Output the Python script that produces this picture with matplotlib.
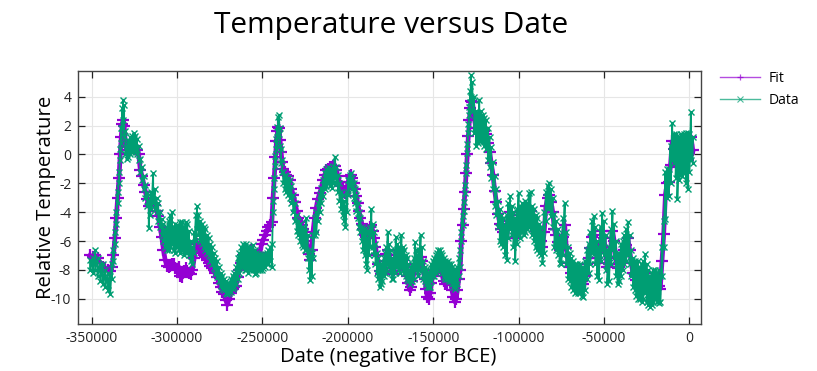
import matplotlib
matplotlib.use("Agg")
import matplotlib.pyplot as plt

plt.rcParams['font.family'] = ['Open Sans', 'DejaVu Sans']

# Dates (years; negative = BCE). At each date the dense "Data" band is read as an
# upper and a lower value; "Fit" is read as one value.
dates = [
    -351000, -349500, -348000, -346500, -345000, -343500, -342000, -340500, -339200, -338200,
    -337300, -336400, -335600, -334800, -334000, -333300, -332700, -332100, -331600, -331000,
    -330300, -329500, -328500, -327500, -326500, -325500, -324500, -323500, -322500, -321500,
    -320500, -319500, -318500, -317500, -316600, -315800, -315000, -314000, -313000, -312000,
    -311000, -310000, -309000, -308000, -307000, -306000, -305000, -304000, -303000, -302000,
    -301000, -300000, -299000, -298000, -297000, -296000, -295000, -294000, -293000, -292000,
    -291000, -290000, -289000, -288300, -287500, -286500, -285500, -284500, -283500, -282500,
    -281500, -280500, -279500, -278500, -277500, -276500, -275500, -274500, -273500, -272500,
    -271500, -270500, -269500, -268500, -267500, -266500, -265500, -264500, -263500, -262500,
    -261500, -260500, -259500, -258500, -257500, -256500, -255500, -254500, -253500, -252500,
    -251500, -250500, -249500, -248500, -247500, -246500, -245500, -244500, -243800, -243100,
    -242400, -241800, -241200, -240700, -240200, -239700, -239100, -238500, -237800, -237000,
    -236000, -235000, -234000, -233000, -232000, -231000, -230000, -229000, -228000, -227000,
    -226000, -225000, -224300, -223500, -222700, -222000, -221200, -220400, -219500, -218500,
    -217500, -216500, -215500, -214500, -213500, -212500, -211500, -210500, -209500, -208500,
    -207600, -206700, -205800, -204900, -204000, -203100, -202200, -201400, -200600, -199800,
    -199000, -198200, -197400, -196600, -195800, -195000, -194200, -193400, -192600, -191800,
    -191000, -190200, -189400, -188600, -187800, -187000, -186200, -185400, -184600, -183800,
    -183000, -182200, -181400, -180600, -179800, -179000, -178200, -177400, -176600, -175800,
    -175000, -174200, -173400, -172600, -171800, -171000, -170200, -169400, -168600, -167800,
    -167000, -166200, -165400, -164600, -163800, -163000, -162200, -161400, -160600, -159800,
    -159000, -158200, -157400, -156600, -155800, -155000, -154200, -153400, -152600, -151800,
    -151000, -150200, -149400, -148600, -147800, -147000, -146200, -145400, -144600, -143800,
    -143000, -142200, -141400, -140600, -139800, -139000, -138200, -137400, -136600, -135800,
    -135000, -134200, -133500, -132800, -132100, -131400, -130700, -130000, -129400, -128800,
    -128300, -127800,
    -127000, -126000, -125000, -124000, -123000, -122000, -121000, -120000, -119000, -118000,
    -117000, -116000, -115000, -114000, -113000, -112000, -111000, -110000, -109000, -108000,
    -107000, -106000, -105000, -104000, -103000, -102000, -101000, -100000, -99000, -98000,
    -97000, -96000, -95000, -94000, -93000, -92000, -91000, -90000, -89000, -88000,
    -87000, -86000, -85000, -84000, -83000, -82000, -81000, -80000, -79000, -78000,
    -77000, -76000, -75000, -74000, -73000, -72000, -71000, -70000, -69000, -68000,
    -67000, -66000, -65000, -64000, -63000, -62000, -61000, -60000, -59000, -58000,
    -57000, -56000, -55000, -54000, -53000, -52000, -51000, -50000, -49000, -48000,
    -47000, -46000, -45000, -44000, -43000, -42000, -41000, -40000, -39000, -38000,
    -37000, -36000, -35000, -34000, -33000, -32000, -31000, -30000, -29000, -28000,
    -27000, -26000, -25000, -24000, -23000, -22000, -21000, -20000, -19000, -18000,
    -17000, -16000, -15000, -14000, -13000, -12000, -11000, -10000, -9000, -8000,
    -7000, -6000, -5000, -4000, -3000, -2000, -1000, 0, 1000, 2000,
]

data_hi = [
    -7.3, -7.2, -6.6, -7.2, -7.6, -7.6, -8.0, -8.2, -8.4, -7.6,
    -6.6, -5.4, -4.0, -2.6, -1.2, 0.4, 1.8, 3.2, 3.8, 3.4,
    1.6, 0.6, 1.0, 1.2, 1.3, 1.5, 1.3, 1.1, 0.6, -0.3,
    -0.9, -1.5, -2.1, -2.7, -3.2, -3.0, -2.6, -1.3, -2.4, -3.0,
    -3.4, -4.0, -4.5, -4.8, -5.2, -5.0, -4.6, -4.2, -4.0, -5.0,
    -4.8, -4.9, -5.0, -4.7, -4.7, -5.0, -4.7, -4.8, -5.3, -6.0,
    -6.4, -5.4, -4.2, -3.6, -4.2, -4.6, -4.8, -5.0, -5.2, -5.6,
    -5.8, -6.2, -6.4, -6.8, -7.2, -7.4, -7.8, -8.2, -8.4, -8.6,
    -8.8, -9.0, -8.9, -8.6, -8.4, -8.2, -7.8, -7.2, -6.8, -6.4,
    -6.2, -6.4, -6.2, -6.4, -6.6, -6.4, -6.3, -6.6, -6.8, -6.9,
    -7.0, -7.0, -7.0, -6.9, -6.8, -6.6, -6.4, -6.2, -3.2, -1.6,
    -0.1, 1.1, 1.9, 2.6, 2.75, 1.8, 0.4, -0.4, -1.2, -1.4,
    -1.5, -1.6, -1.8, -2.2, -2.8, -3.4, -4.2, -4.6, -4.8, -5.0,
    -5.2, -5.4, -4.4, -5.6, -6.6, -7.2, -6.8, -5.6, -4.4, -4.0,
    -3.4, -2.8, -2.3, -1.8, -1.3, -1.0, -0.9, -1.0, -1.0, -0.8,
    -0.15, -0.9, -1.4, -2.0, -2.6, -2.8, -3.2, -3.6, -2.6, -1.8,
    -1.4, -1.3, -1.6, -2.0, -2.4, -2.8, -3.4, -4.0, -4.4, -5.0,
    -5.2, -5.2, -5.4, -5.8, -5.4, -5.0, -3.8, -4.8, -5.4, -6.2,
    -6.8, -7.2, -7.6, -7.8, -7.6, -7.2, -6.8, -6.4, -5.35, -6.2,
    -6.6, -7.2, -7.6, -6.6, -5.7, -6.2, -6.4, -6.6, -5.6, -6.4,
    -6.6, -7.0, -7.2, -7.6, -8.0, -7.8, -7.6, -7.2, -6.1, -6.6,
    -7.0, -6.6, -5.6, -6.4, -7.4, -7.8, -8.0, -8.2, -8.2, -8.0,
    -7.6, -7.4, -7.2, -7.0, -6.8, -6.6, -6.6, -6.8, -7.0, -7.2,
    -7.4, -7.6, -7.4, -7.6, -7.6, -7.8, -8.0, -8.2, -8.0, -7.8,
    -7.2, -6.6, -5.4, -4.3, -3.3, -2.1, -0.7, 0.7, 2.1, 3.3,
    4.4, 5.5,
    5.0, 4.0, 3.0, 2.8, 3.8, 3.0, 2.7, 2.5, 2.4, 1.8,
    1.2, 0.5, -0.5, -1.5, -2.4, -3.2, -3.8, -4.2, -4.4, -4.9,
    -4.2, -3.4, -2.9, -3.6, -4.0, -4.4, -3.8, -2.7, -3.6, -3.4,
    -3.6, -3.2, -3.4, -2.7, -2.6, -3.6, -3.8, -4.2, -4.4, -4.8,
    -5.0, -5.4, -4.0, -2.6, -2.2, -1.95, -2.4, -3.0, -4.1, -4.6,
    -5.2, -5.8, -5.6, -4.4, -3.4, -5.4, -6.4, -6.8, -7.2, -7.4,
    -7.6, -7.6, -7.8, -7.6, -7.8, -8.0, -7.4, -6.6, -6.2, -5.4,
    -4.6, -4.3, -5.0, -6.0, -6.4, -5.0, -4.05, -4.6, -5.6, -6.6,
    -6.4, -5.2, -3.95, -4.8, -6.0, -6.8, -6.8, -6.2, -6.0, -5.6,
    -5.2, -4.65, -5.6, -6.6, -7.2, -7.4, -7.6, -7.4, -7.8, -7.6,
    -7.4, -6.9, -7.6, -8.0, -8.4, -8.2, -8.0, -8.0, -8.2, -8.0,
    -8.4, -6.4, -4.6, -1.2, -1.0, -1.0, 0.6, 2.2, 1.4, 1.4,
    1.3, 1.2, 1.4, 1.3, 1.4, 1.5, 1.5, 1.4, 2.95, 1.2,
]

data_lo = [
    -8.0, -8.2, -8.0, -8.4, -8.8, -9.0, -9.2, -9.4, -9.7, -8.6,
    -7.4, -6.2, -4.8, -3.4, -2.0, -0.4, 0.8, 1.8, 2.4, 1.2,
    0.0, -0.3, -0.2, 0.0, 0.2, 0.3, 0.2, 0.0, -0.4, -1.2,
    -1.8, -2.4, -3.0, -3.6, -5.1, -4.2, -3.8, -3.4, -3.8, -4.0,
    -4.6, -5.0, -5.6, -6.0, -6.4, -6.6, -6.6, -6.4, -6.2, -6.6,
    -6.8, -6.4, -6.6, -6.8, -6.6, -7.0, -6.8, -6.8, -7.0, -7.4,
    -7.6, -6.8, -6.0, -5.2, -5.6, -6.0, -6.2, -6.4, -6.6, -6.8,
    -7.0, -7.4, -7.6, -7.9, -8.3, -8.5, -8.8, -9.1, -9.3, -9.4,
    -9.6, -9.7, -9.6, -9.5, -9.3, -9.2, -9.0, -8.6, -8.2, -7.8,
    -7.8, -8.0, -8.0, -8.2, -8.0, -7.8, -8.0, -8.3, -8.2, -8.0,
    -8.0, -8.0, -7.9, -7.8, -7.6, -7.6, -7.4, -7.8, -4.0, -2.4,
    -0.8, 0.4, 1.2, 1.6, 1.4, 0.6, -0.6, -1.2, -2.0, -2.4,
    -2.6, -2.8, -3.0, -3.4, -4.0, -4.6, -5.3, -5.6, -6.0, -6.3,
    -6.4, -6.6, -6.6, -7.2, -8.0, -8.7, -8.4, -7.2, -5.6, -5.4,
    -4.6, -4.0, -3.4, -2.9, -2.4, -2.2, -2.0, -2.2, -2.3, -2.0,
    -1.6, -2.0, -2.6, -3.2, -3.8, -4.2, -4.6, -5.0, -4.0, -2.8,
    -2.2, -2.0, -2.4, -3.0, -3.4, -3.9, -4.4, -5.0, -5.4, -6.0,
    -6.6, -7.0, -7.6, -8.0, -7.0, -6.4, -5.6, -6.4, -7.0, -7.6,
    -8.2, -8.6, -9.2, -9.0, -8.8, -8.4, -8.2, -8.0, -7.6, -7.8,
    -8.2, -8.6, -8.6, -8.2, -7.8, -7.8, -8.0, -8.2, -7.8, -8.0,
    -8.2, -8.4, -8.6, -8.8, -9.0, -8.8, -8.8, -8.6, -8.0, -8.0,
    -8.4, -8.0, -7.6, -8.0, -8.6, -8.8, -9.0, -9.2, -9.2, -9.2,
    -8.8, -8.4, -8.4, -8.2, -8.0, -7.8, -7.8, -8.0, -8.2, -8.5,
    -8.6, -8.6, -8.6, -8.8, -8.8, -9.0, -9.2, -9.3, -9.2, -9.0,
    -8.4, -7.8, -6.0, -4.9, -3.9, -2.7, -1.3, 0.1, 1.5, 2.7,
    3.6, 4.0,
    3.0, 1.5, 0.6, 0.8, 1.0, 0.9, 0.9, 0.6, 0.4, -0.4,
    -0.9, -1.6, -2.4, -3.6, -4.2, -5.0, -6.0, -6.2, -6.4, -7.0,
    -7.3, -5.8, -5.2, -5.6, -6.4, -7.4, -6.2, -5.6, -5.8, -5.4,
    -5.6, -5.4, -5.2, -5.0, -5.2, -5.6, -6.0, -6.4, -6.6, -6.8,
    -7.0, -7.5, -6.8, -4.6, -3.8, -3.6, -4.3, -5.0, -6.4, -6.6,
    -7.0, -7.5, -7.6, -7.0, -6.4, -7.6, -8.6, -8.8, -9.2, -9.4,
    -9.6, -9.4, -9.6, -9.6, -9.8, -9.9, -9.4, -8.6, -8.2, -7.6,
    -6.8, -6.9, -7.6, -8.4, -8.7, -7.4, -6.6, -7.0, -8.0, -9.0,
    -8.8, -7.6, -6.6, -7.2, -8.4, -9.0, -8.8, -8.4, -8.0, -7.6,
    -7.4, -7.0, -7.6, -8.4, -9.2, -9.4, -9.8, -10.0, -10.0, -10.2,
    -10.0, -9.6, -10.2, -10.4, -10.6, -10.4, -10.2, -10.0, -10.2, -10.3,
    -10.2, -8.4, -6.4, -4.5, -3.0, -2.9, -2.0, -0.4, -0.6, -1.6,
    -3.1, -1.8, -1.4, -1.5, -1.2, -2.0, -2.4, -1.2, -0.4, -0.6,
]

fit_temp = [
    -7.0, -7.1, -7.0, -7.2, -7.5, -7.8, -7.9, -8.0, -8.1, -7.8,
    -7.0, -5.8, -4.4, -3.0, -1.6, 0.0, 1.2, 2.1, 2.4, 2.0,
    0.8, 0.3, 0.5, 0.4, 0.6, 0.6, 0.5, 0.3, 0.0, -1.1,
    -1.5, -2.1, -2.6, -3.1, -3.6, -3.6, -3.4, -3.1, -3.5, -3.9,
    -4.3, -5.0, -5.7, -6.6, -7.3, -7.7, -7.8, -7.7, -7.6, -7.6,
    -7.9, -8.0, -7.8, -8.4, -8.5, -8.1, -7.9, -8.1, -8.2, -8.3,
    -8.0, -7.2, -6.5, -6.2, -6.4, -6.6, -6.8, -7.0, -7.1, -7.3,
    -7.5, -7.7, -7.9, -8.0, -8.2, -8.5, -8.9, -9.2, -9.5, -9.7,
    -10.1, -10.4, -10.0, -9.6, -9.3, -9.2, -9.1, -8.5, -8.0, -7.5,
    -7.0, -7.0, -6.8, -7.0, -6.9, -6.6, -6.8, -7.1, -7.2, -7.0,
    -6.8, -6.2, -5.9, -5.6, -5.3, -5.0, -4.9, -4.7, -3.0, -1.6,
    -0.2, 0.9, 1.6, 1.9, 1.8, 1.0, 0.2, -0.5, -1.0, -1.2,
    -1.4, -1.5, -1.8, -2.4, -2.8, -3.3, -3.9, -4.4, -4.7, -4.9,
    -5.2, -5.7, -6.0, -6.4, -6.9, -7.3, -6.6, -5.4, -4.4, -3.7,
    -3.1, -2.7, -2.3, -1.8, -1.4, -1.1, -1.0, -0.9, -0.9, -0.8,
    -0.8, -1.1, -1.5, -1.9, -2.2, -2.4, -2.6, -2.7, -2.4, -1.9,
    -1.5, -1.4, -1.6, -2.0, -2.4, -2.9, -3.4, -3.9, -4.4, -4.8,
    -5.2, -5.6, -5.7, -5.5, -5.3, -5.0, -4.9, -5.3, -5.8, -6.4,
    -7.0, -7.6, -8.1, -8.3, -8.2, -7.9, -7.4, -6.9, -6.6, -7.0,
    -7.6, -8.1, -8.3, -7.8, -7.2, -7.0, -7.3, -7.6, -7.4, -7.3,
    -7.6, -8.0, -8.4, -8.9, -9.4, -9.2, -8.8, -8.3, -7.8, -7.6,
    -7.9, -7.6, -7.1, -7.4, -8.0, -8.6, -9.3, -9.9, -10.0, -9.6,
    -8.9, -8.3, -8.2, -7.9, -7.8, -7.6, -7.7, -8.0, -8.4, -8.8,
    -9.0, -8.9, -8.6, -8.7, -8.9, -9.4, -9.9, -10.2, -10.0, -9.4,
    -8.6, -8.0, -6.0, -4.9, -3.8, -2.6, -1.3, 0.0, 1.3, 2.4,
    3.2, 3.7,
    3.6, 2.6, 1.8, 1.8, 2.0, 1.9, 1.8, 1.6, 1.4, 0.8,
    0.2, -0.6, -1.4, -2.5, -3.3, -4.1, -4.8, -5.2, -5.4, -5.8,
    -5.8, -4.6, -4.0, -4.6, -5.2, -5.8, -5.0, -4.2, -4.7, -4.4,
    -4.6, -4.3, -4.3, -3.9, -3.9, -4.6, -4.9, -5.3, -5.5, -5.8,
    -6.0, -6.4, -5.4, -3.6, -3.0, -2.8, -3.3, -4.0, -5.2, -5.6,
    -6.1, -6.6, -6.6, -5.7, -4.9, -6.5, -7.5, -7.8, -8.2, -8.4,
    -8.6, -8.5, -8.7, -8.6, -8.8, -9.0, -8.4, -7.6, -7.2, -6.5,
    -5.7, -5.6, -6.3, -7.2, -7.5, -6.2, -5.3, -5.8, -6.8, -7.8,
    -7.6, -6.4, -5.3, -6.0, -7.2, -7.9, -7.8, -7.3, -7.0, -6.6,
    -6.3, -5.8, -6.6, -7.5, -8.2, -8.4, -8.7, -8.7, -8.9, -8.9,
    -8.7, -8.2, -8.9, -9.2, -9.5, -9.3, -9.1, -9.0, -9.2, -9.1,
    -9.3, -7.4, -5.5, -2.8, -2.0, -1.9, -0.7, 0.9, 0.4, -0.1,
    -0.9, -0.3, 0.0, -0.1, 0.1, -0.2, -0.4, 0.1, 1.2, 0.3,
]

x_ticks = [-350000, -300000, -250000, -200000, -150000, -100000, -50000, 0]
y_ticks = [-10, -8, -6, -4, -2, 0, 2, 4]

# Data path: upper then lower reading at every date
data_x, data_y = [], []
for d, hi, lo in zip(dates, data_hi, data_lo):
    data_x += [d, d]
    data_y += [hi, lo]

W, H = 817, 371
fig = plt.figure(figsize=(W / 100, H / 100), dpi=100)
ax = fig.add_axes([78.3 / W, 1 - 324.3 / H, (700.7 - 78.3) / W, (324.3 - 71) / H])

ax.plot(dates, fit_temp, color='#9400D3', lw=3.4, marker='+', ms=8, mew=1.6, solid_joinstyle='round')
ax.plot(data_x, data_y, color='#009E73', lw=1.3, marker='x', ms=5, mew=1.0)

# legend entries with the thin original styling
ax.plot([], [], color='#9400D3', lw=1.0, marker='+', ms=5, mew=0.9, alpha=0.7, label='Fit')
ax.plot([], [], color='#009E73', lw=1.0, marker='x', ms=4, mew=0.8, alpha=0.7, label='Data')

ax.set_xlim(-357850, 6670)
ax.set_ylim(-11.77, 5.78)
ax.set_xticks(x_ticks)
ax.set_xticklabels([str(v) for v in x_ticks])
ax.set_yticks(y_ticks)
ax.set_yticklabels([str(v) for v in y_ticks])
ax.tick_params(direction='in', length=5, width=0.9, top=True, right=True,
               labelsize=10, pad=5, colors='#222222')
ax.grid(True, color='#e6e6e6', lw=0.8)
ax.set_axisbelow(True)
for s in ax.spines.values():
    s.set_color('#444444')
    s.set_linewidth(1.0)

fig.text(390.8 / W, 1 - 33 / H, 'Temperature versus Date', ha='center', va='baseline', fontsize=21.5)
fig.text(388 / W, 1 - 362 / H, 'Date (negative for BCE)', ha='center', va='baseline', fontsize=14.6)
fig.text(46 / W, 1 - 197.5 / H, 'Relative Temperature', ha='center', va='center', rotation=90,
         fontsize=14.6)

ax.legend(loc='upper left', bbox_to_anchor=(720 / W, 1 - 71 / H), bbox_transform=fig.transFigure,
          frameon=False, fontsize=10, handlelength=2.9, handletextpad=0.6, labelspacing=0.5,
          borderpad=0, borderaxespad=0)

fig.savefig('out.png', dpi=100)
